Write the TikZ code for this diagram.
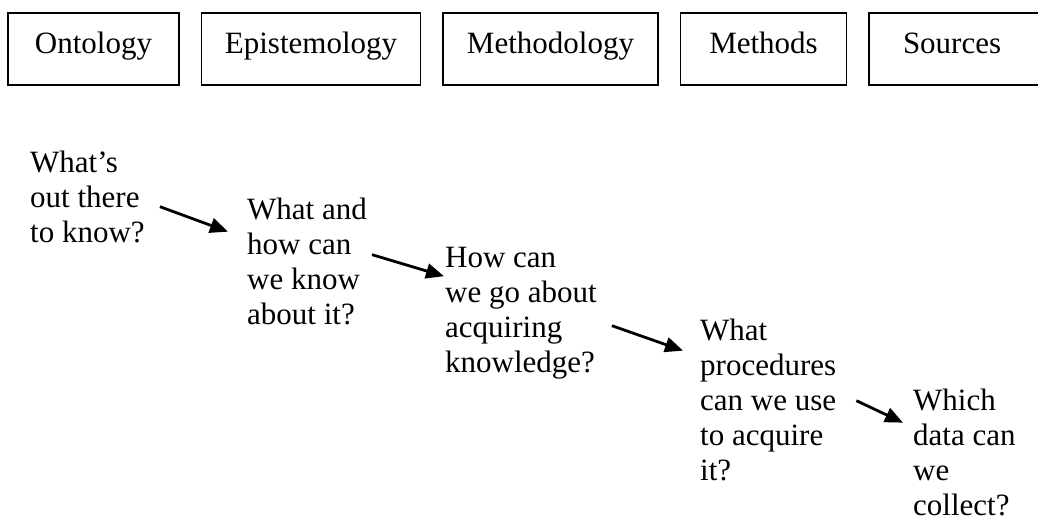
\documentclass[tikz,border=0pt]{standalone}
\usepackage{fontspec}
\setmainfont{Liberation Serif}
\usetikzlibrary{arrows.meta,positioning}

\begin{document}
\begin{tikzpicture}[
  x=1pt, y=-1pt,
  font=\fontsize{31}{35}\selectfont, node distance=22.5pt,
  topic/.style={draw, line width=1.6pt, outer sep=0pt, minimum height=72pt,
    text height=21pt, text depth=13pt},
  quest/.style={align=left, inner sep=0pt, anchor=north west},
  arr/.style={-{Triangle[length=18pt,width=15pt]}, line width=2.8pt}
]
\clip (0,0) rectangle (1038,523);

% the five levels
\node[topic, minimum width=171pt] (onto) at (93.5,49) {Ontology};
\node[topic, minimum width=219pt, right=of onto] (epis) {Epistemology};
\node[topic, minimum width=215pt, right=of epis] (mlogy) {Methodology};
\node[topic, minimum width=166pt, right=of mlogy] (meth) {Methods};
\node[topic, minimum width=200pt, right=of meth, text width=180pt, align=left] (src) {\hspace*{24pt}Sources};

% the questions
\node[quest] (q1) at (30,151) {What's\\out there\\to know?};
\node[quest] (q2) at (247,198) {What and\\how can\\we know\\about it?};
\node[quest] (q3) at (445,247) {How can\\we go about\\acquiring\\knowledge?};
\node[quest] (q4) at (700,319) {What\\procedures\\can we use\\to acquire\\it?};
\node[quest] (q5) at (913,389) {Which\\data can\\we\\collect?};

\draw[arr] ([xshift=15pt,yshift=-9.5pt]q1.east) -- ([xshift=-19pt,yshift=30pt]q2.west);
\draw[arr] ([xshift=5pt,yshift=7pt]q2.east) -- ([xshift=-1pt,yshift=37pt]q3.west);
\draw[arr] ([xshift=15pt,yshift=-12.5pt]q3.east) -- ([xshift=-17pt,yshift=49.5pt]q4.west);
\draw[arr] ([xshift=20pt,yshift=-0.5pt]q4.east) -- ([xshift=-10pt,yshift=30pt]q5.west);
\end{tikzpicture}
\end{document}
